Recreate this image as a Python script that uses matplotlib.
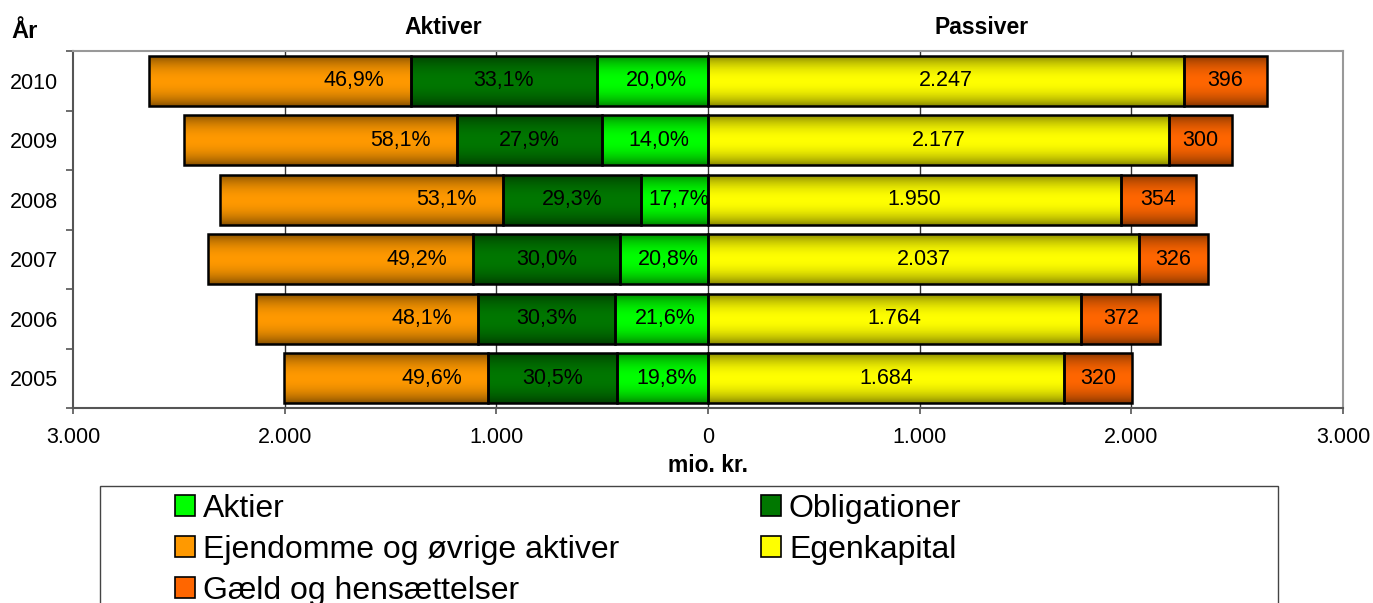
import numpy as np
import matplotlib
matplotlib.use('Agg')
import matplotlib.pyplot as plt
import matplotlib.colors as mcolors
from matplotlib.patches import Rectangle, Patch

plt.rcParams['font.family'] = ['Liberation Sans', 'DejaVu Sans']

# data (mio. kr.); the bar labels on the
# asset side are the printed percentages, which do not match the widths
years = [2005, 2006, 2007, 2008, 2009, 2010]
aktier = [431, 439, 416, 318, 502, 526]
obligationer = [607, 646, 693, 649, 685, 877]
ejendomme = [966, 1051, 1254, 1337, 1290, 1240]
egenkapital = [1684, 1764, 2037, 1950, 2177, 2247]
gaeld = [320, 372, 326, 354, 300, 396]
aktier_lbl = ['19,8%', '21,6%', '20,8%', '17,7%', '14,0%', '20,0%']
oblig_lbl = ['30,5%', '30,3%', '30,0%', '29,3%', '27,9%', '33,1%']
ejendom_lbl = ['49,6%', '48,1%', '49,2%', '53,1%', '58,1%', '46,9%']
x_ticks = [-3000, -2000, -1000, 0, 1000, 2000, 3000]

names = ['Aktier', 'Obligationer', 'Ejendomme og øvrige aktiver',
         'Egenkapital', 'Gæld og hensættelser']
colors = ['#00ff00', '#007700', '#ff9900', '#ffff00', '#ff6600']

W, H = 1373, 603


def shade(ax, bars, color):
    # vertical gradient: dark at the edges, full colour in the middle
    rgb = np.array(mcolors.to_rgb(color))
    t = np.linspace(0, 1, 80)
    f = 0.5 + 0.5 * np.sin(np.pi * t) ** 0.7
    img = (rgb[None, :] * f[:, None])[:, None, :]
    for p in bars:
        bb = p.get_bbox()
        ax.imshow(img, extent=(bb.x0, bb.x1, bb.y0, bb.y1), aspect='auto',
                  interpolation='bilinear', zorder=2)


def thou(v):
    return f"{abs(int(round(v))):,}".replace(',', '.')


y = np.arange(len(years))
akt = np.array(aktier)
obl = np.array(obligationer)
ejd = np.array(ejendomme)
eg = np.array(egenkapital)
gd = np.array(gaeld)

fig = plt.figure(figsize=(W / 100, H / 100), dpi=100)
ax = fig.add_axes([73 / W, 1 - 408 / H, 1270 / W, 357 / H])

bh = 0.84
kw = dict(height=bh, edgecolor='black', linewidth=1.8, facecolor='none', zorder=3)
b_akt = ax.barh(y, -akt, left=0, **kw)
b_obl = ax.barh(y, -obl, left=-akt, **kw)
b_ejd = ax.barh(y, -ejd, left=-(akt + obl), **kw)
b_eg = ax.barh(y, eg, left=0, **kw)
b_gd = ax.barh(y, gd, left=eg, **kw)
for bars, c in zip([b_akt, b_obl, b_ejd, b_eg, b_gd], colors):
    shade(ax, bars, c)

fs = 15.5
for i in range(len(years)):
    ax.annotate(aktier_lbl[i], (-akt[i] / 2, y[i]), xytext=(3, 0), textcoords='offset points',
                ha='center', va='center', fontsize=fs, zorder=4)
    ax.text(-akt[i] - obl[i] / 2, y[i], oblig_lbl[i], ha='center', va='center',
            fontsize=fs, zorder=4)
    ax.annotate(ejendom_lbl[i], (-(akt[i] + obl[i]), y[i]), xytext=(-19, 0),
                textcoords='offset points', ha='right', va='center', fontsize=fs, zorder=4)
    ax.text(eg[i] / 2, y[i], thou(eg[i]), ha='center', va='center', fontsize=fs, zorder=4)
    ax.text(eg[i] + gd[i] / 2, y[i], thou(gd[i]), ha='center', va='center', fontsize=fs, zorder=4)

ax.set_xlim(-3000, 3000)
ax.set_ylim(-0.5, len(years) - 0.5)
ax.set_xticks(x_ticks)
ax.set_xticklabels([thou(v) for v in x_ticks])
for v in x_ticks[1:-1]:
    ax.axvline(v, color='#333333', lw=1, zorder=1)
ax.set_yticks(y)
ax.set_yticklabels([str(v) for v in years])
ax.set_yticks(np.arange(len(years) + 1) - 0.5, minor=True)
ax.tick_params(axis='y', which='major', length=0, pad=11, labelsize=fs)
ax.tick_params(axis='y', which='minor', length=5, width=1.2, color='#555555')
ax.tick_params(axis='x', length=4, width=1.2, color='#555555', pad=10, labelsize=fs)

for s in ['top', 'right']:
    ax.spines[s].set_color('#999999')
    ax.spines[s].set_linewidth(1.5)
for s in ['left', 'bottom']:
    ax.spines[s].set_color('#555555')
    ax.spines[s].set_linewidth(1.5)

tfs = 16.5
fig.text(11 / W, 1 - 31 / H, 'År', fontsize=17, fontweight='bold', va='center')
fig.text(443 / W, 1 - 28 / H, 'Aktiver', fontsize=tfs, fontweight='bold', ha='center', va='center')
fig.text(982 / W, 1 - 28 / H, 'Passiver', fontsize=tfs, fontweight='bold', ha='center', va='center')
fig.text(708 / W, 1 - 465 / H, 'mio. kr.', fontsize=tfs, fontweight='bold', ha='center', va='center')

# legend frame (runs off the bottom of the figure)
fig.patches.append(Rectangle((100 / W, -0.1), 1178 / W, 0.1 + 1 - 486 / H,
                             transform=fig.transFigure, fill=False,
                             edgecolor='#444444', lw=1))
handles = [Patch(facecolor=c, edgecolor='black', lw=1.2) for c in colors]
order = [0, 2, 4, 1, 3]
fig.legend([handles[k] for k in order], [names[k] for k in order], ncol=2,
           loc='upper left', bbox_to_anchor=(175 / W, 1 - 494 / H),
           frameon=False, fontsize=23, handlelength=0.62, handleheight=0.62,
           handletextpad=0.25, labelspacing=0.34, columnspacing=4.45,
           borderpad=0, borderaxespad=0)

fig.savefig('out.png', dpi=100)
